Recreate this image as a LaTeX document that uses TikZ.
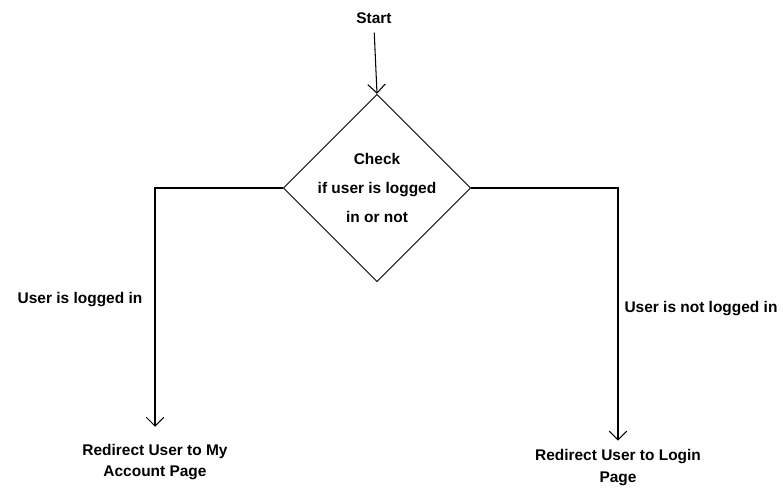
\documentclass[tikz,border=0pt]{standalone}
\usepackage{fontspec}
\setmainfont{Liberation Sans}
\usetikzlibrary{shapes.geometric,arrows.meta}

\tikzset{
	txt/.style={font=\bfseries\fontsize{8.8}{12.5}\selectfont, align=center, inner sep=2pt},
	check/.style={draw, diamond, aspect=1, inner sep=0pt, minimum width=3.68cm, minimum height=3.68cm, line width=0.5pt, font=\bfseries\fontsize{8.8}{16.4}\selectfont, align=center},
	arrow/.style={-{Straight Barb[length=5pt,width=10pt]}, line width=0.6pt}
}

\begin{document}
\begin{tikzpicture}[x=0.02cm,y=-0.02cm]
\useasboundingbox (0,0) rectangle (783,488);

\node (start) at (374,18) [txt] {Start};
\node (chk) at (377,188) [check] {Check\\if user is logged\\in or not};

\node (yes) at (80,300) [txt] {User is logged in};
\node (no) at (701,309) [txt] {User is not logged in};

\node (acct) at (155,462) [txt] {Redirect User to My\\Account Page};
\node (login) at (618,468) [txt] {Redirect User to Login\\Page};

\draw [arrow, shorten <=3pt] (start.south) -- (chk.north);
\draw [arrow, shorten >=7.5pt] (chk.west) -| (acct.north);
\draw [arrow, shorten >=3pt] (chk.east) -| (login.north);
\end{tikzpicture}
\end{document}
